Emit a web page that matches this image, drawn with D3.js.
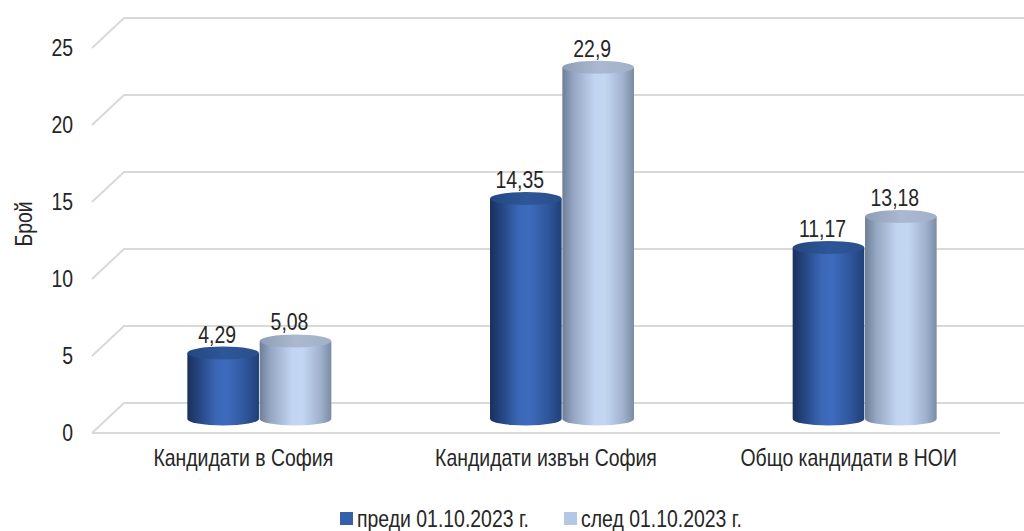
<!DOCTYPE html>
<html><head><meta charset="utf-8">
<script src="https://cdn.jsdelivr.net/npm/d3@7"></script>
<style>
body{margin:0;background:#fff}
text{font-family:"Liberation Sans",Arial,sans-serif;fill:#262626}
</style>
</head><body><svg id="c" width="1024" height="531"></svg>
<script>
const categories = ["Кандидати в София","Кандидати извън София","Общо кандидати в НОИ"];
const seriesNames = ["преди 01.10.2023 г.","след 01.10.2023 г."];
const before = [4.29,14.35,11.17];
const after = [5.08,22.9,13.18];
const yTicks = [0,5,10,15,20,25];
const yTitle = "Брой";

const svg = d3.select("#c");
const FS = 23, NARROW = 0.845;
const depth = {dx:32, dy:-30};
const x = d3.scaleBand().domain(categories).range([92,1000]);
const yFront = d3.scaleLinear().domain([0,25]).range([433,48]);
const yBar = d3.scaleLinear().domain([0,25]).range([419,35]);
const xs = d3.scaleBand().domain([0,1]).range([-72,72]).paddingInner(0.01);
const fmt = v => String(v).replace(".", ",");
// narrow text placed at (px,py)
function narrowAt(sel, px, py, extra){
  sel.attr("x",0).attr("y",0)
     .attr("transform",(d,i)=>`translate(${typeof px==="function"?px(d,i):px},${typeof py==="function"?py(d,i):py})${extra||""} scale(${NARROW},1)`);
}

// gradients
const defs = svg.append("defs");
function grad(id, stops){
  const g = defs.append("linearGradient").attr("id",id).attr("x1","0%").attr("x2","100%").attr("y1","0%").attr("y2","0%");
  stops.forEach(s=>g.append("stop").attr("offset",s[0]).attr("stop-color",s[1]));
}
grad("bodyDark",[[0,"#1a305d"],[0.12,"#223f77"],[0.4,"#3b67b6"],[0.55,"#3e6bbd"],[0.8,"#30579d"],[1,"#203f77"]]);
grad("bodyLight",[[0,"#6e7e98"],[0.15,"#95a6c2"],[0.45,"#c1d4f1"],[0.6,"#c3d6f2"],[0.85,"#9fb1cd"],[1,"#7b8ba4"]]);
grad("topDark",[[0,"#23477f"],[0.5,"#2e5698"],[1,"#2a4f8c"]]);
grad("topLight",[[0,"#8f9db5"],[0.5,"#aab9d0"],[1,"#a2b1c8"]]);
const fills = [{body:"url(#bodyDark)",top:"url(#topDark)"},{body:"url(#bodyLight)",top:"url(#topLight)"}];
const legendColors = ["#3460aa","#b4c7e7"];

// gridlines
svg.append("g").selectAll("path").data(yTicks).join("path")
  .attr("d", t => {
    const y0 = yFront(t);
    return `M${x.range()[0]},${y0}L${x.range()[0]+depth.dx},${y0+depth.dy}L${x.range()[1]+depth.dx},${y0+depth.dy}`;
  })
  .attr("fill","none").attr("stroke","#d9d9d9").attr("stroke-width",2);
svg.append("path")
  .attr("d",`M${x.range()[0]},${yFront(0)}L${x.range()[1]},${yFront(0)}`)
  .attr("stroke","#d9d9d9").attr("stroke-width",2);

// y axis
const ya = svg.append("g").attr("transform","translate(73,0)")
  .call(d3.axisLeft(yFront).tickValues(yTicks).tickSize(0).tickPadding(0).tickFormat(d3.format("d")));
ya.select(".domain").remove();
ya.selectAll("text").attr("font-size",FS).attr("font-family",null).attr("transform",`scale(${NARROW},1)`);

// x axis
const xa = svg.append("g").attr("transform",`translate(0,${yFront(0)})`)
  .call(d3.axisBottom(x).tickSize(0).tickPadding(17));
xa.select(".domain").remove();
xa.selectAll("text").attr("font-size",FS).attr("font-family",null).attr("transform",`scale(${NARROW},1)`);

// y title
svg.append("text").attr("transform",`translate(24,224) rotate(-90) scale(${NARROW},1)`)
  .attr("text-anchor","middle").attr("dominant-baseline","central").attr("font-size",FS).text(yTitle);

// bars
const ry = 6.5;
const data = [];
categories.forEach((c,i)=>{
  [before[i],after[i]].forEach((v,s)=>{
    data.push({c, s, v, cx: x(c)+x.bandwidth()/2 + depth.dx/2 + xs(s) + xs.bandwidth()/2, w: xs.bandwidth()});
  });
});
const bars = svg.append("g").selectAll("g").data(data).join("g");
bars.append("path").attr("d", d => {
  const rx = d.w/2, yt = yBar(d.v), yb = yBar(0);
  return `M${d.cx-rx},${yt}L${d.cx-rx},${yb}A${rx},${ry} 0 0 0 ${d.cx+rx},${yb}L${d.cx+rx},${yt}Z`;
}).attr("fill", d => fills[d.s].body);
bars.append("ellipse").attr("cx",d=>d.cx).attr("cy",d=>yBar(d.v)).attr("rx",d=>d.w/2).attr("ry",ry)
  .attr("fill", d => fills[d.s].top);
bars.append("text").attr("text-anchor","middle").attr("font-size",FS).text(d=>fmt(d.v))
  .call(narrowAt, d=>d.cx-6, d=>yBar(d.v)-ry-4);

// legend
const lx = [340,564];
const lg = svg.append("g").selectAll("g").data(seriesNames).join("g")
  .attr("transform",(d,i)=>`translate(${lx[i]},512)`);
lg.append("rect").attr("width",13).attr("height",13).attr("fill",(d,i)=>legendColors[i]);
lg.append("text").attr("font-size",FS).text(d=>d).call(narrowAt, 17, 15);
</script>
</body></html>
